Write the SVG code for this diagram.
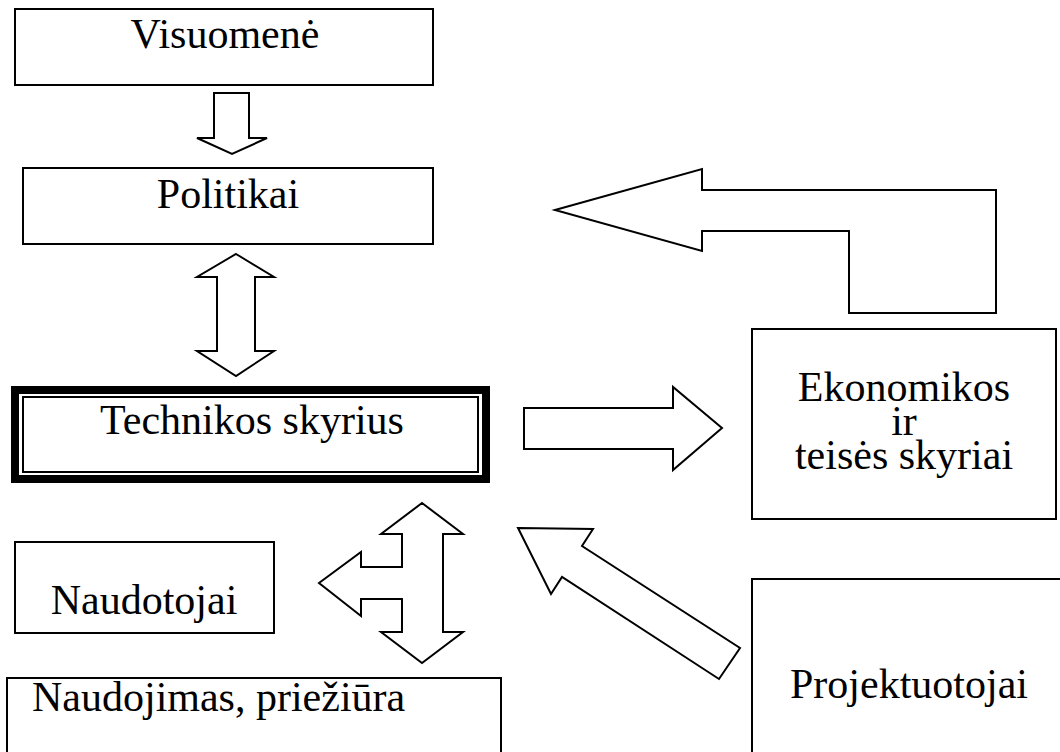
<svg xmlns="http://www.w3.org/2000/svg" width="1060" height="752" viewBox="0 0 1060 752">
<style>
.box{fill:#fff;stroke:#000;stroke-width:2}
.arr{fill:#fff;stroke:#000;stroke-width:2;stroke-linejoin:miter}
text{font-family:'Liberation Serif','Times New Roman',Tinos,'DejaVu Serif',serif;font-size:42px;fill:#000}
.c{text-anchor:middle}
</style>
<rect width="1060" height="752" fill="#fff"/>
<g id="connectors">
<polygon class="arr" points="214,93 249,93 249,138 267,138 232,154 197,138 214,138"/>
<polygon class="arr" points="236,254 274,277 255,277 255,351 274,351 236,376 197,351 217,351 217,277 197,277"/>
<polygon class="arr" points="555,210 702,169 702,190 996,190 996,313 849,313 849,231 702,231 702,251"/>
<polygon class="arr" points="524,408 673,408 673,387 722,428 673,470 673,449 524,449"/>
<polygon class="arr" points="422,503 463,534 443,534 443,632 463,632 422,663 381,632 402,632 402,599 361,599 361,616 319,583 361,552 361,567 402,567 402,534 381,534"/>
<polygon class="arr" points="518,528 593,529 582,546 740,648 719,679 562,577 551,594"/>
</g>
<g id="visuomene">
<rect class="box" x="15" y="9" width="418" height="76"/>
<text class="c" x="225" y="48" font-family="Liberation Serif, serif">Visuomenė</text>
</g>
<g id="politikai">
<rect class="box" x="23" y="168" width="410" height="76"/>
<text class="c" x="228" y="208" font-family="Liberation Serif, serif">Politikai</text>
</g>
<g id="technikos">
<rect x="15" y="390" width="471" height="89" fill="#fff" stroke="#000" stroke-width="8"/>
<rect x="23" y="397" width="455" height="75" fill="none" stroke="#000" stroke-width="2"/>
<text class="c" x="252" y="434" font-family="Liberation Serif, serif">Technikos skyrius</text>
</g>
<g id="ekonomikos">
<rect class="box" x="752" y="329" width="304" height="190"/>
<text class="c" x="904" y="401" font-family="Liberation Serif, serif">Ekonomikos</text>
<text class="c" x="904" y="435" font-family="Liberation Serif, serif">ir</text>
<text class="c" x="904" y="469" font-family="Liberation Serif, serif">teisės skyriai</text>
</g>
<g id="naudotojai">
<rect class="box" x="15" y="542" width="259" height="91"/>
<text class="c" x="144" y="614" font-family="Liberation Serif, serif">Naudotojai</text>
</g>
<g id="naudojimas">
<rect class="box" x="7" y="678" width="494" height="90"/>
<text x="32" y="711" font-family="Liberation Serif, serif">Naudojimas, priežiūra</text>
</g>
<g id="projektuotojai">
<rect class="box" x="752" y="579" width="320" height="190"/>
<text class="c" x="909" y="698" font-family="Liberation Serif, serif">Projektuotojai</text>
</g>
</svg>
